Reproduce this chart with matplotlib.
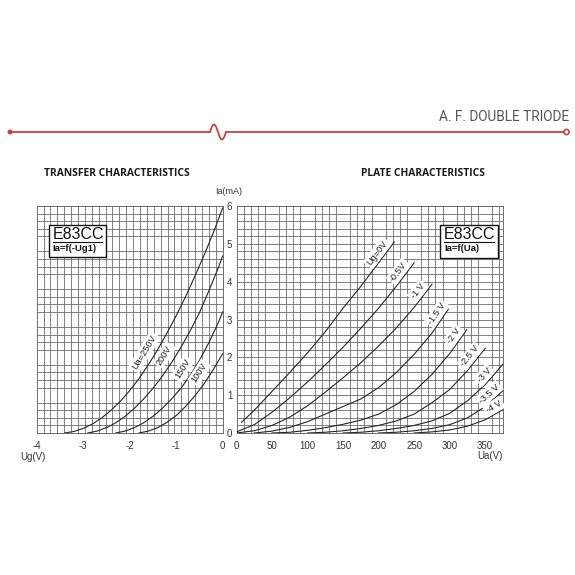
import numpy as np
import matplotlib
matplotlib.use("Agg")
import matplotlib.pyplot as plt
from matplotlib.patches import Rectangle, Circle

plt.rcParams["axes.unicode_minus"] = False

# ---- transfer characteristics  Ia = f(-Ug1)
ug_250 = [-3.4, -3.2, -3.0, -2.8, -2.6, -2.4, -2.2, -2.0, -1.8, -1.6, -1.4, -1.2, -1.0, -0.8, -0.6, -0.4, -0.2, 0.0]
ia_250 = [0, 0.04, 0.12, 0.24, 0.40, 0.60, 0.84, 1.12, 1.44, 1.80, 2.20, 2.64, 3.10, 3.60, 4.14, 4.70, 5.30, 5.95]
ug_200 = [-2.9, -2.7, -2.5, -2.3, -2.1, -1.9, -1.7, -1.5, -1.3, -1.1, -0.9, -0.7, -0.5, -0.3, -0.1, 0.0]
ia_200 = [0, 0.05, 0.14, 0.27, 0.44, 0.65, 0.90, 1.18, 1.50, 1.86, 2.26, 2.70, 3.18, 3.75, 4.35, 4.68]
ug_150 = [-2.3, -2.1, -1.9, -1.7, -1.5, -1.3, -1.1, -0.9, -0.7, -0.5, -0.3, -0.1, 0.0]
ia_150 = [0, 0.05, 0.14, 0.27, 0.44, 0.65, 0.90, 1.18, 1.52, 1.92, 2.38, 2.90, 3.20]
ug_100 = [-1.8, -1.6, -1.4, -1.2, -1.0, -0.8, -0.6, -0.4, -0.2, 0.0]
ia_100 = [0, 0.05, 0.14, 0.28, 0.46, 0.70, 0.98, 1.30, 1.68, 2.10]
transfer = [(ug_250, ia_250), (ug_200, ia_200), (ug_150, ia_150), (ug_100, ia_100)]
transfer_labels = ["Ua=250V", "200V", "150V", "100V"]

# ---- plate characteristics  Ia = f(Ua)
ua_0 = [7, 25, 50, 75, 100, 125, 150, 175, 200, 222]
ia_0 = [0.28, 0.60, 1.10, 1.60, 2.12, 2.68, 3.30, 3.88, 4.50, 5.05]
ua_m05 = [0, 25, 50, 75, 100, 125, 150, 175, 200, 225, 250]
ia_m05 = [0.03, 0.22, 0.55, 0.93, 1.35, 1.80, 2.27, 2.77, 3.30, 3.88, 4.50]
ua_m1 = [0, 25, 50, 75, 100, 125, 150, 175, 200, 225, 250, 275]
ia_m1 = [0, 0.06, 0.20, 0.42, 0.72, 1.08, 1.46, 1.86, 2.30, 2.78, 3.32, 3.93]
ua_m15 = [25, 50, 75, 100, 125, 150, 175, 200, 225, 250, 275, 298]
ia_m15 = [0, 0.05, 0.15, 0.30, 0.50, 0.70, 0.90, 1.20, 1.60, 2.08, 2.64, 3.27]
ua_m2 = [50, 75, 100, 125, 150, 175, 200, 225, 250, 275, 300, 324]
ia_m2 = [0, 0.02, 0.07, 0.14, 0.23, 0.34, 0.50, 0.75, 1.10, 1.55, 2.10, 2.73]
ua_m25 = [100, 125, 150, 175, 200, 225, 250, 275, 300, 325, 350]
ia_m25 = [0, 0.02, 0.06, 0.12, 0.20, 0.32, 0.50, 0.80, 1.15, 1.65, 2.24]
ua_m3 = [150, 175, 200, 225, 250, 275, 300, 325, 350, 375]
ia_m3 = [0, 0.02, 0.06, 0.12, 0.20, 0.32, 0.52, 0.85, 1.28, 1.82]
ua_m35 = [200, 225, 250, 275, 300, 325, 350, 375]
ia_m35 = [0, 0.02, 0.06, 0.12, 0.22, 0.40, 0.70, 1.12]
ua_m4 = [250, 275, 300, 325, 350, 375]
ia_m4 = [0, 0.03, 0.08, 0.18, 0.35, 0.62]
plate = [(ua_0, ia_0), (ua_m05, ia_m05), (ua_m1, ia_m1), (ua_m15, ia_m15), (ua_m2, ia_m2),
         (ua_m25, ia_m25), (ua_m3, ia_m3), (ua_m35, ia_m35), (ua_m4, ia_m4)]
plate_labels = ["Ug=0V", "-0.5V", "-1 V", "-1.5 V", "-2 V", "-2.5 V", "-3 V", "-3.5 V", "-4 V"]

ug_ticks = [-4, -3, -2, -1, 0]
ua_ticks = [0, 50, 100, 150, 200, 250, 300, 350]
ia_ticks = [0, 1, 2, 3, 4, 5, 6]

# where along each curve its label sits
transfer_label_at = [-1.5, -1.07, -0.68, -0.32]
plate_label_at = [206, 236, 263, 290, 314, 336, 356, 362, 367]

W = 575.0
GRID = "#6c6c6c"
CURVE = "#262626"
RED = "#c8433c"
NUM = "Liberation Sans"

fig = plt.figure(figsize=(5.75, 5.75), dpi=100)
top, bot = 206.0, 433.0
ax1 = fig.add_axes([36.7 / W, 1 - bot / W, (222.7 - 36.7) / W, (bot - top) / W])
ax2 = fig.add_axes([236.5 / W, 1 - bot / W, (503 - 236.5) / W, (bot - top) / W])

ax1.set_xlim(-4, 0)
ax2.set_xlim(0, 375)
for ax in (ax1, ax2):
    ax.set_ylim(0, 6)
    ax.set_yticks(np.arange(0, 6.01, 0.2), minor=True)
    ax.grid(which="minor", color=GRID, lw=0.6)
    ax.tick_params(which="both", length=0, labelsize=7, colors="#333333")
    for s in ax.spines.values():
        s.set_color(GRID)
        s.set_linewidth(0.7)
    ax.set_axisbelow(True)

ax1.set_xticks(ug_ticks)
ax1.set_xticks(np.linspace(-4, 0, 28), minor=True)
ax1.set_yticks(ia_ticks)
ax1.yaxis.tick_right()
ax1.tick_params(axis="y", pad=3)
ax1.tick_params(axis="x", pad=6)
ax2.set_xticks(ua_ticks)
ax2.set_xticks(np.arange(0, 371, 10), minor=True)
ax2.set_yticks([])
ax2.tick_params(axis="x", pad=6)
for lab in ax1.get_xticklabels() + ax1.get_yticklabels() + ax2.get_xticklabels():
    lab.set_family(NUM)


def curve_label(ax, xs, ys, x0, text, d_px):
    y0 = np.interp(x0, xs, ys)
    span = ax.get_xlim()[1] - ax.get_xlim()[0]
    x1 = x0 + span * 0.01
    p0 = ax.transData.transform((x0, y0))
    p1 = ax.transData.transform((x1, np.interp(x1, xs, ys)))
    ang = np.degrees(np.arctan2(p1[1] - p0[1], p1[0] - p0[0]))
    off = d_px * 72.0 / fig.dpi
    nx, ny = -np.sin(np.radians(ang)) * off, np.cos(np.radians(ang)) * off
    ax.annotate(text, (x0, y0), xytext=(nx, ny), textcoords="offset points",
                rotation=ang, rotation_mode="anchor", ha="center", va="center",
                fontsize=6.6, family=NUM, color="#1e1e1e", zorder=4,
                bbox=dict(boxstyle="square,pad=0.2", fc="white", ec="none"))


for (xs, ys), lab, at in zip(transfer, transfer_labels, transfer_label_at):
    ax1.plot(xs, ys, color=CURVE, lw=0.8, zorder=3)
    curve_label(ax1, xs, ys, at, lab, 10)

for (xs, ys), lab, at in zip(plate, plate_labels, plate_label_at):
    ax2.plot(xs, ys, color=CURVE, lw=0.8, zorder=3)
    curve_label(ax2, xs, ys, at, lab, 7)

# overlay in pixel coordinates for header, titles, boxes
ov = fig.add_axes([0, 0, 1, 1], zorder=5)
ov.set_xlim(0, W)
ov.set_ylim(W, 0)
ov.axis("off")

ly = 132
t = np.linspace(0, 1, 40)
ov.plot([10, 210], [ly, ly], color=RED, lw=1.3)
ov.plot(210 + 16 * t, ly - 7.5 * np.sin(2 * np.pi * t), color=RED, lw=1.3)
ov.plot([226, 564], [ly, ly], color=RED, lw=1.3)
ov.add_patch(Circle((10, ly), 1.8, color=RED))
ov.add_patch(Circle((566.5, ly), 2.6, fc="white", ec=RED, lw=1.2))
ov.text(569, 121, "A. F. DOUBLE TRIODE", ha="right", va="baseline", fontsize=9.8,
        color="#555555", family=["Liberation Sans Narrow", "Roboto"])

ov.text(44, 173, "TRANSFER CHARACTERISTICS", ha="left", va="center", fontsize=7.4,
        fontweight="bold", family="Open Sans", color="#1a1a1a")
ov.text(361, 173, "PLATE CHARACTERISTICS", ha="left", va="center", fontsize=7.4,
        fontweight="bold", family="Open Sans", color="#1a1a1a")

ov.text(229, 191, "Ia(mA)", ha="center", va="center", fontsize=6.5, family=NUM, color="#333333")
ov.text(33, 457, "Ug(V)", ha="center", va="center", fontsize=7, family=NUM, color="#333333")
ov.text(490, 456, "Ua(V)", ha="center", va="center", fontsize=7, family=NUM, color="#333333")

for (bx, by, bw, bh, sub) in [(48.5, 224.5, 57, 32, "Ia=f(-Ug1)"), (440, 224.5, 57.5, 33, "Ia=f(Ua)")]:
    ov.add_patch(Rectangle((bx, by), bw, bh, fc="white", ec="#111111", lw=1.0))
    ov.text(bx + 4, by + 10, "E83CC", ha="left", va="center", fontsize=11.5, family=NUM, color="#111111")
    ov.plot([bx + 4, bx + bw - 4], [by + 17.5, by + 17.5], color="#111111", lw=0.8)
    ov.text(bx + 4, by + 24, sub, ha="left", va="center", fontsize=6.8, fontweight="bold",
            family=NUM, color="#111111")

fig.savefig("out.png", dpi=100, facecolor="white")
